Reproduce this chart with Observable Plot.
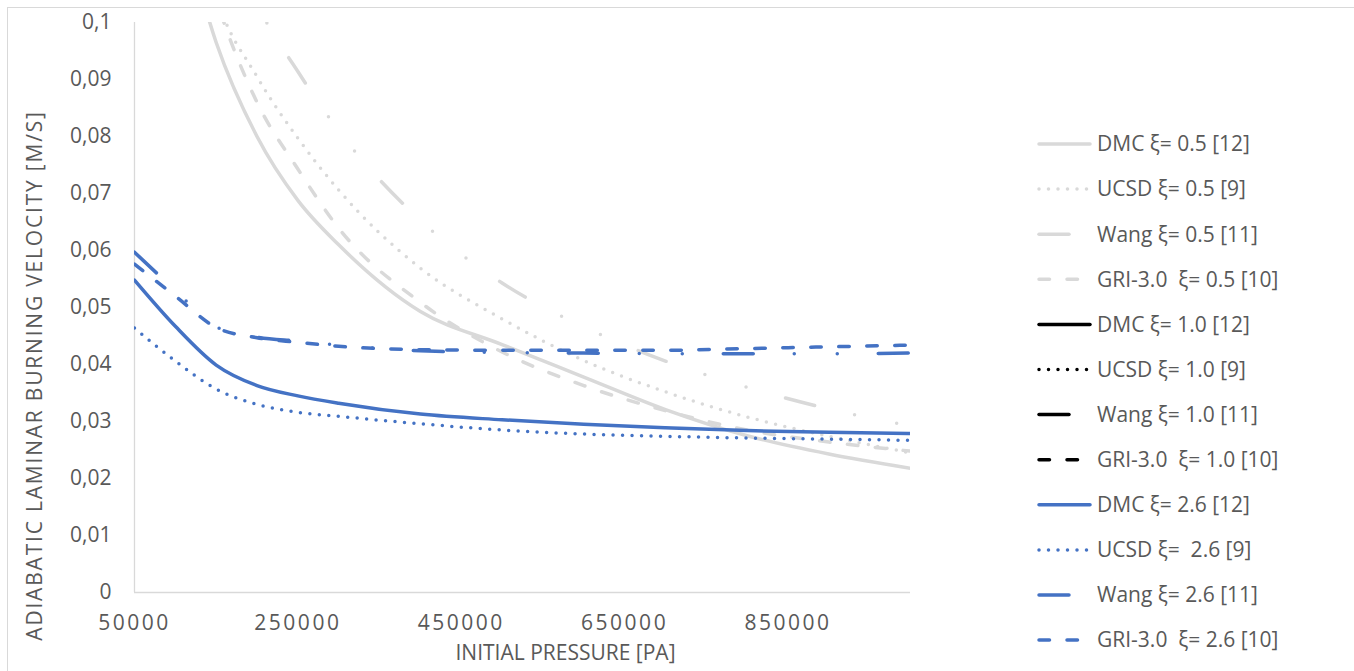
<!DOCTYPE html>
<html>
<head>
<meta charset="utf-8">
<script src="https://cdn.jsdelivr.net/npm/d3@7"></script>
<script src="https://cdn.jsdelivr.net/npm/@observablehq/plot@0.6"></script>
<style>
  body { margin: 0; background: #fff; }
  #chart { position: relative; width: 1354px; height: 671px; overflow: hidden; font-family: "Open Sans", sans-serif; }
  #frame { position: absolute; left: 7px; top: 7px; width: 1400px; height: 700px; border: 1px solid #d9d9d9; }
  #plot { position: absolute; left: 0; top: 0; }
  #legend { position: absolute; left: 0; top: 0; }
  .burn g[aria-label="x-axis tick label"] text { letter-spacing: 2.5px; }
  .burn .ytitle text { letter-spacing: 1.8px; }
  #legend text { white-space: pre; }
</style>
</head>
<body>
<div id="chart">
  <div id="frame"></div>
  <div id="plot"></div>
  <svg id="legend" width="1354" height="671"></svg>
</div>
<script>
// Initial pressure [Pa] at which each velocity is read
const pressure = [50000, 100000, 150000, 200000, 250000, 300000, 400000, 500000, 600000, 700000, 800000, 900000, 1000000];

// Adiabatic laminar burning velocity [m/s], equivalence ratio 0.5
const dmc05  = [null, 0.122, 0.0965, 0.0800, 0.0688, 0.0610, 0.0493, 0.0435, 0.0378, 0.0321, 0.0275, 0.0243, 0.0218];
const ucsd05 = [null, 0.135, 0.1045, 0.0905, 0.0797, 0.0706, 0.0569, 0.0480, 0.0407, 0.0352, 0.0308, 0.0274, 0.0245];
const wang05 = [null, null, 0.125, 0.1035, 0.0914, 0.0810, 0.0653, 0.0543, 0.0466, 0.0406, 0.0360, 0.0322, 0.0292];
const gri05  = [null, 0.130, 0.1040, 0.0860, 0.0743, 0.0639, 0.0509, 0.0422, 0.0363, 0.0319, 0.0285, 0.0264, 0.0248];

// Equivalence ratio 1.0 (no values within the plotted range)
const dmc10  = [];
const ucsd10 = [];
const wang10 = [];
const gri10  = [];

// Equivalence ratio 2.6
const dmc26  = [0.0548, 0.0467, 0.0399, 0.0363, 0.0345, 0.0332, 0.0313, 0.0303, 0.0295, 0.0289, 0.0284, 0.0281, 0.0279];
const ucsd26 = [0.0464, 0.0406, 0.0357, 0.0330, 0.0316, 0.0309, 0.0296, 0.0285, 0.0278, 0.0274, 0.0271, 0.0269, 0.0267];
const wang26 = [0.0597, 0.0530, 0.0466, 0.0448, 0.0441, 0.0434, 0.0424, 0.0421, 0.0420, 0.0419, 0.0419, 0.0419, 0.0420];
const gri26  = [0.0576, 0.0520, 0.0465, 0.0447, 0.0439, 0.0432, 0.0426, 0.0425, 0.0425, 0.0425, 0.0428, 0.0431, 0.0434];

const seriesNames = [
  "DMC ξ= 0.5 [12]", "UCSD ξ= 0.5 [9]", "Wang ξ= 0.5 [11]", "GRI-3.0  ξ= 0.5 [10]",
  "DMC ξ= 1.0 [12]", "UCSD ξ= 1.0 [9]", "Wang ξ= 1.0 [11]", "GRI-3.0  ξ= 1.0 [10]",
  "DMC ξ= 2.6 [12]", "UCSD ξ=  2.6 [9]", "Wang ξ= 2.6 [11]", "GRI-3.0  ξ= 2.6 [10]"
];
const seriesValues = [dmc05, ucsd05, wang05, gri05, dmc10, ucsd10, wang10, gri10, dmc26, ucsd26, wang26, gri26];

const xTicks = [50000, 250000, 450000, 650000, 850000];
const yTicks = [0, 0.01, 0.02, 0.03, 0.04, 0.05, 0.06, 0.07, 0.08, 0.09, 0.1];
const yTickLabels = ["0", "0,01", "0,02", "0,03", "0,04", "0,05", "0,06", "0,07", "0,08", "0,09", "0,1"];
const xTitle = "INITIAL PRESSURE [PA]";
const yTitle = "ADIABATIC LAMINAR BURNING VELOCITY [M/S]";

// Stroke styles: colour per equivalence ratio, dash per mechanism
const ratioColors = ["#d9d9d9", "#000000", "#4472c4"];
const mechanismDash = {
  DMC: null,
  UCSD: "0 9.5",
  Wang: "30 41 0 43 0 41",
  GRI: "10.5 17.5"
};
const mechanisms = ["DMC", "UCSD", "Wang", "GRI"];
// lean Wang curve starts above the frame, so its dash phase is shifted
const dashOffsets = {2: -38};
const strokeW = 3.5;

const series = seriesNames.map((name, i) => ({
  name,
  color: ratioColors[Math.floor(i / 4)],
  dash: mechanismDash[mechanisms[i % 4]],
  offset: dashOffsets[i] || 0,
  rows: pressure
    .map((p, j) => ({p, v: seriesValues[i][j]}))
    .filter(d => d.v != null)
}));

const lines = series
  .filter(s => s.rows.length)
  .map(s => Plot.line(s.rows, {
    x: "p", y: "v",
    stroke: s.color,
    strokeWidth: strokeW,
    strokeDasharray: s.dash,
    strokeDashoffset: s.offset,
    strokeLinecap: "round",
    strokeLinejoin: "round",
    curve: "monotone-x",
    clip: true
  }));

const chart = Plot.plot({
  width: 1354,
  height: 671,
  marginLeft: 134,
  marginRight: 444,
  marginTop: 22,
  marginBottom: 79,
  className: "burn",
  style: {fontFamily: "'Open Sans', sans-serif", color: "#595959", background: "transparent", overflow: "visible"},
  x: {domain: [50000, 1000000]},
  y: {domain: [0, 0.1]},
  marks: [
    Plot.ruleX([50000], {stroke: "#d9d9d9", strokeWidth: 1.3}),
    Plot.ruleY([0], {stroke: "#d9d9d9", strokeWidth: 1.3}),
    ...lines,
    Plot.axisX(xTicks, {tickSize: 0, tickPadding: 23, tickFormat: d => String(d), fontSize: 21, label: null, fill: "#595959"}),
    Plot.axisY(yTicks, {tickSize: 0, tickPadding: 23, tickFormat: d => yTickLabels[yTicks.indexOf(d)], fontSize: 21, label: null, fill: "#595959"}),
    Plot.text([xTitle], {frameAnchor: "bottom", dx: 43, dy: 67, fontSize: 21, fill: "#595959"}),
    Plot.text([yTitle], {frameAnchor: "left", textAnchor: "middle", rotate: -90, dx: -99, dy: 68, fontSize: 21, fill: "#595959", className: "ytitle"})
  ]
});
document.getElementById("plot").appendChild(chart);

// Legend: swatch and label per series, in series order
const legend = d3.select("#legend");
const rowY = i => 144 + i * 45.1;
const rows = legend.selectAll("g").data(series).join("g")
  .attr("transform", (d, i) => `translate(0,${rowY(i)})`);
rows.append("line")
  .attr("x1", 1039).attr("x2", 1090).attr("y1", 0).attr("y2", 0)
  .attr("stroke", d => d.color)
  .attr("stroke-width", strokeW)
  .attr("stroke-linecap", "round")
  .attr("stroke-dasharray", d => d.dash);
rows.append("text")
  .attr("x", 1097).attr("y", 0).attr("dy", "0.35em")
  .attr("fill", "#595959")
  .style("font-family", "'Open Sans', sans-serif")
  .style("font-size", "21px")
  .text(d => d.name);
</script>
</body>
</html>
